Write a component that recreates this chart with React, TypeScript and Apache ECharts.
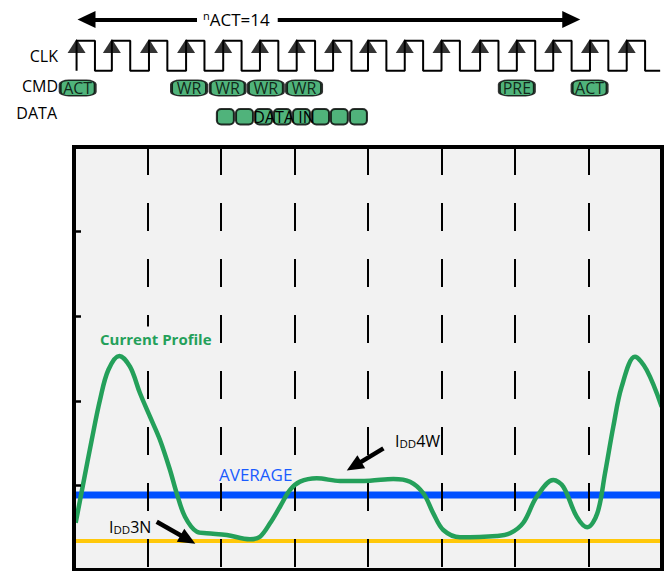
import React, { useEffect, useRef } from "react";
import * as echarts from "echarts";

// ---- data (time axis in clock cycles, current in arbitrary units) ----
const clkRise = [0.07, 1.03, 2.04, 3.05, 4.06, 5.06, 6.06, 7.05, 8.0, 9.0, 10.0, 11.05, 12.05, 13.04, 14.04, 15.04];
const clkHighWidth = 0.5;
const clkEnd = 15.95;

const cmdNames = ["ACT", "WR", "WR", "WR", "WR", "PRE", "ACT"];
const cmdCycles = [0.1, 3.13, 4.18, 5.22, 6.26, 12.05, 14.03];
const dataBeats = [4.12, 4.64, 5.16, 5.67, 6.19, 6.71, 7.22, 7.74];
const nActSpan = [0.1, 13.77];

const profileT = [0.046, 0.253, 0.482, 0.707, 0.933, 1.233, 1.524, 1.796, 2.068, 2.34, 2.612, 2.795, 3.02, 3.339, 3.611, 4.155, 4.789, 5.061, 5.333, 5.605, 5.878, 6.15, 6.604, 7.238, 8.054, 8.688, 9.143, 9.505, 9.777, 10.049, 10.503, 11.502, 11.864, 12.226, 12.59, 13.042, 13.314, 13.679, 13.967, 14.24, 14.449, 14.675, 14.903, 15.265, 15.583, 15.992];
const profileI = [0.559, 1.025, 1.537, 2.009, 2.364, 2.53, 2.403, 2.089, 1.812, 1.537, 1.182, 0.906, 0.63, 0.453, 0.434, 0.414, 0.363, 0.394, 0.552, 0.748, 0.946, 1.044, 1.084, 1.052, 1.056, 1.076, 1.044, 0.907, 0.67, 0.473, 0.387, 0.402, 0.434, 0.559, 0.866, 1.064, 0.985, 0.63, 0.505, 0.67, 1.143, 1.694, 2.167, 2.521, 2.364, 1.93];
const averageI = 0.887;
const idd3nI = 0.343;
// annotation arrows: [startT, startI, endT, endI]
const idd3nArrow = [2.25, 0.571, 3.1, 0.36];
const idd4wArrow = [8.42, 1.438, 7.62, 1.228];

// ---- layout / style ----
const FONT = '"Open Sans", sans-serif';
const GREEN = "#24a05a";
const TOP = { clkHigh: 40.7, clkLow: 70.7, cmd: 88, data: 116.7, arrow: 19.5 };

export default function App() {
  const ref = useRef<HTMLDivElement>(null);
  useEffect(() => {
    if (!ref.current) return;
    const chart = echarts.init(ref.current, null, { renderer: "svg" });

    const clockData: number[][] = [];
    clkRise.forEach((r) => {
      clockData.push([r, TOP.clkLow], [r, TOP.clkHigh], [r + clkHighWidth, TOP.clkHigh], [r + clkHighWidth, TOP.clkLow]);
    });
    clockData.push([clkEnd, TOP.clkLow]);

    const border = { show: true, onZero: false, lineStyle: { color: "#000", width: 4, cap: "square" } };
    const txt = (text: string, x: number, y: number, extra: any = {}) => ({
      type: "text",
      x,
      y,
      z: 100,
      style: {
        text,
        fill: "#000",
        font: `16px ${FONT}`,
        textAlign: "left",
        textVerticalAlign: "middle",
        verticalAlign: "middle",
        ...extra,
      },
    });
    const iddRich = {
      a: { fontSize: 16, fontFamily: "Open Sans", lineHeight: 16, verticalAlign: "bottom", color: "#000" },
      s: { fontSize: 11.5, fontFamily: "Open Sans", lineHeight: 13.6, verticalAlign: "bottom", color: "#000" },
    };

    const option: any = {
      animation: false,
      backgroundColor: "#ffffff",
      grid: [
        { left: 74, top: 147, width: 588, height: 423, show: true, backgroundColor: "#f2f2f2", borderWidth: 0, outerBoundsMode: "none" },
        { left: 74, top: 0, width: 588, height: 140, show: false, outerBoundsMode: "none" },
      ],
      xAxis: [
        {
          type: "value", gridIndex: 0, min: 0, max: 16, interval: 2, position: "bottom", z: 3,
          axisLine: border, axisTick: { show: false }, axisLabel: { show: false },
          splitLine: { show: true, lineStyle: { color: "#000", width: 2, type: [28, 28] } },
        },
        {
          type: "value", gridIndex: 0, min: 0, max: 16, position: "top", z: 5,
          axisLine: border, axisTick: { show: false }, axisLabel: { show: false }, splitLine: { show: false },
        },
        { type: "value", gridIndex: 1, min: 0, max: 16, show: false },
      ],
      yAxis: [
        {
          type: "value", gridIndex: 0, min: 0, max: 5, interval: 1, position: "left", z: 5,
          axisLine: border,
          axisTick: { show: true, inside: true, length: 7, lineStyle: { color: "#000", width: 2.5 } },
          axisLabel: { show: false }, splitLine: { show: false },
        },
        {
          type: "value", gridIndex: 0, min: 0, max: 5, position: "right", z: 5,
          axisLine: border, axisTick: { show: false }, axisLabel: { show: false }, splitLine: { show: false },
        },
        { type: "value", gridIndex: 1, min: 0, max: 140, inverse: true, show: false },
      ],
      series: [
        {
          name: "AVERAGE", type: "line", xAxisIndex: 0, yAxisIndex: 0, z: 2, silent: true,
          data: [[0, averageI], [16, averageI]], symbol: "none",
          lineStyle: { color: "#0050ff", width: 7 },
        },
        {
          name: "IDD3N", type: "line", xAxisIndex: 0, yAxisIndex: 0, z: 2, silent: true, clip: false,
          data: [[0, idd3nI], [16, idd3nI]], symbol: "none",
          lineStyle: { color: "#ffc80a", width: 4 },
          markLine: {
            silent: true, symbol: ["none", "triangle"], symbolSize: [15, 17],
            label: { show: false }, lineStyle: { color: "#000", width: 4.5, type: "solid" },
            data: [
              [{ coord: [idd3nArrow[0], idd3nArrow[1]] }, { coord: [idd3nArrow[2], idd3nArrow[3]] }],
              [{ coord: [idd4wArrow[0], idd4wArrow[1]] }, { coord: [idd4wArrow[2], idd4wArrow[3]] }],
            ],
          },
        },
        {
          name: "Current Profile", type: "line", xAxisIndex: 0, yAxisIndex: 0, z: 4, silent: true,
          data: profileT.map((t, i) => [t, profileI[i]]), smooth: 0.35, symbol: "none",
          lineStyle: { color: GREEN, width: 4.5 },
        },
        {
          name: "CLK", type: "line", xAxisIndex: 2, yAxisIndex: 2, z: 3, silent: true, clip: false,
          data: clockData, symbol: "none", lineStyle: { color: "#000", width: 2 },
          markLine: {
            silent: true, symbol: ["triangle", "triangle"], symbolSize: [17, 18],
            label: { show: false }, lineStyle: { color: "#000", width: 4, type: "solid" },
            data: [[{ coord: [nActSpan[0] + 0.24, TOP.arrow] }, { coord: [nActSpan[1] - 0.24, TOP.arrow] }]],
          },
        },
        {
          name: "CLK edge", type: "scatter", xAxisIndex: 2, yAxisIndex: 2, z: 4, silent: true,
          data: clkRise.map((r) => [r, TOP.clkHigh]), symbol: "triangle",
          symbolSize: [18, 14], symbolOffset: [0, 5.3], itemStyle: { color: "#000" },
        },
        {
          name: "CMD", type: "scatter", xAxisIndex: 2, yAxisIndex: 2, z: 4, silent: true,
          data: cmdCycles.map((c, i) => ({ value: [c, TOP.cmd], name: cmdNames[i] })),
          symbol: "roundRect", symbolSize: [35, 15.5],
          itemStyle: { color: GREEN, borderColor: "#000", borderWidth: 2 },
          label: { show: true, position: "inside", formatter: "{b}", color: "#000", fontSize: 16, fontFamily: "Open Sans" },
        },
        {
          name: "DATA", type: "scatter", xAxisIndex: 2, yAxisIndex: 2, z: 4, silent: true,
          data: dataBeats.map((b) => [b, TOP.data]),
          symbol: "roundRect", symbolSize: [17, 15.5],
          itemStyle: { color: GREEN, borderColor: "#000", borderWidth: 2 },
        },
      ],
      graphic: [
        txt("CLK", 58, 56, { textAlign: "right" }),
        txt("CMD", 58, 86, { textAlign: "right" }),
        txt("DATA", 57, 113, { textAlign: "right" }),
        txt("DATA IN", 284, 117, { textAlign: "center", font: `16px ${FONT}` }),
        txt("{n|n}{b|ACT=14}", 197, TOP.arrow, {
          rich: {
            n: { fontSize: 11, fontFamily: "Open Sans", verticalAlign: "top", lineHeight: 11, color: "#000" },
            b: { fontSize: 17, fontFamily: "Open Sans", lineHeight: 19, color: "#000" },
          },
          backgroundColor: "#ffffff",
          padding: [2, 8, 2, 6],
        }),
        txt("Current Profile", 98, 339, {
          fill: GREEN, font: `bold 15px ${FONT}`, backgroundColor: "#f2f2f2", padding: [8, 2, 2, 2],
        }),
        txt("AVERAGE", 219, 474, { fill: "#1a5cff", font: `17px ${FONT}` }),
        txt("{a|I}{s|DD}{a|3N}", 109, 527, { rich: iddRich }),
        txt("{a|I}{s|DD}{a|4W}", 395, 441, { rich: iddRich }),
      ],
    };
    chart.setOption(option);
    return () => chart.dispose();
  }, []);
  return <div ref={ref} style={{ position: "absolute", left: 0, top: 0, width: 665, height: 571 }} />;
}
